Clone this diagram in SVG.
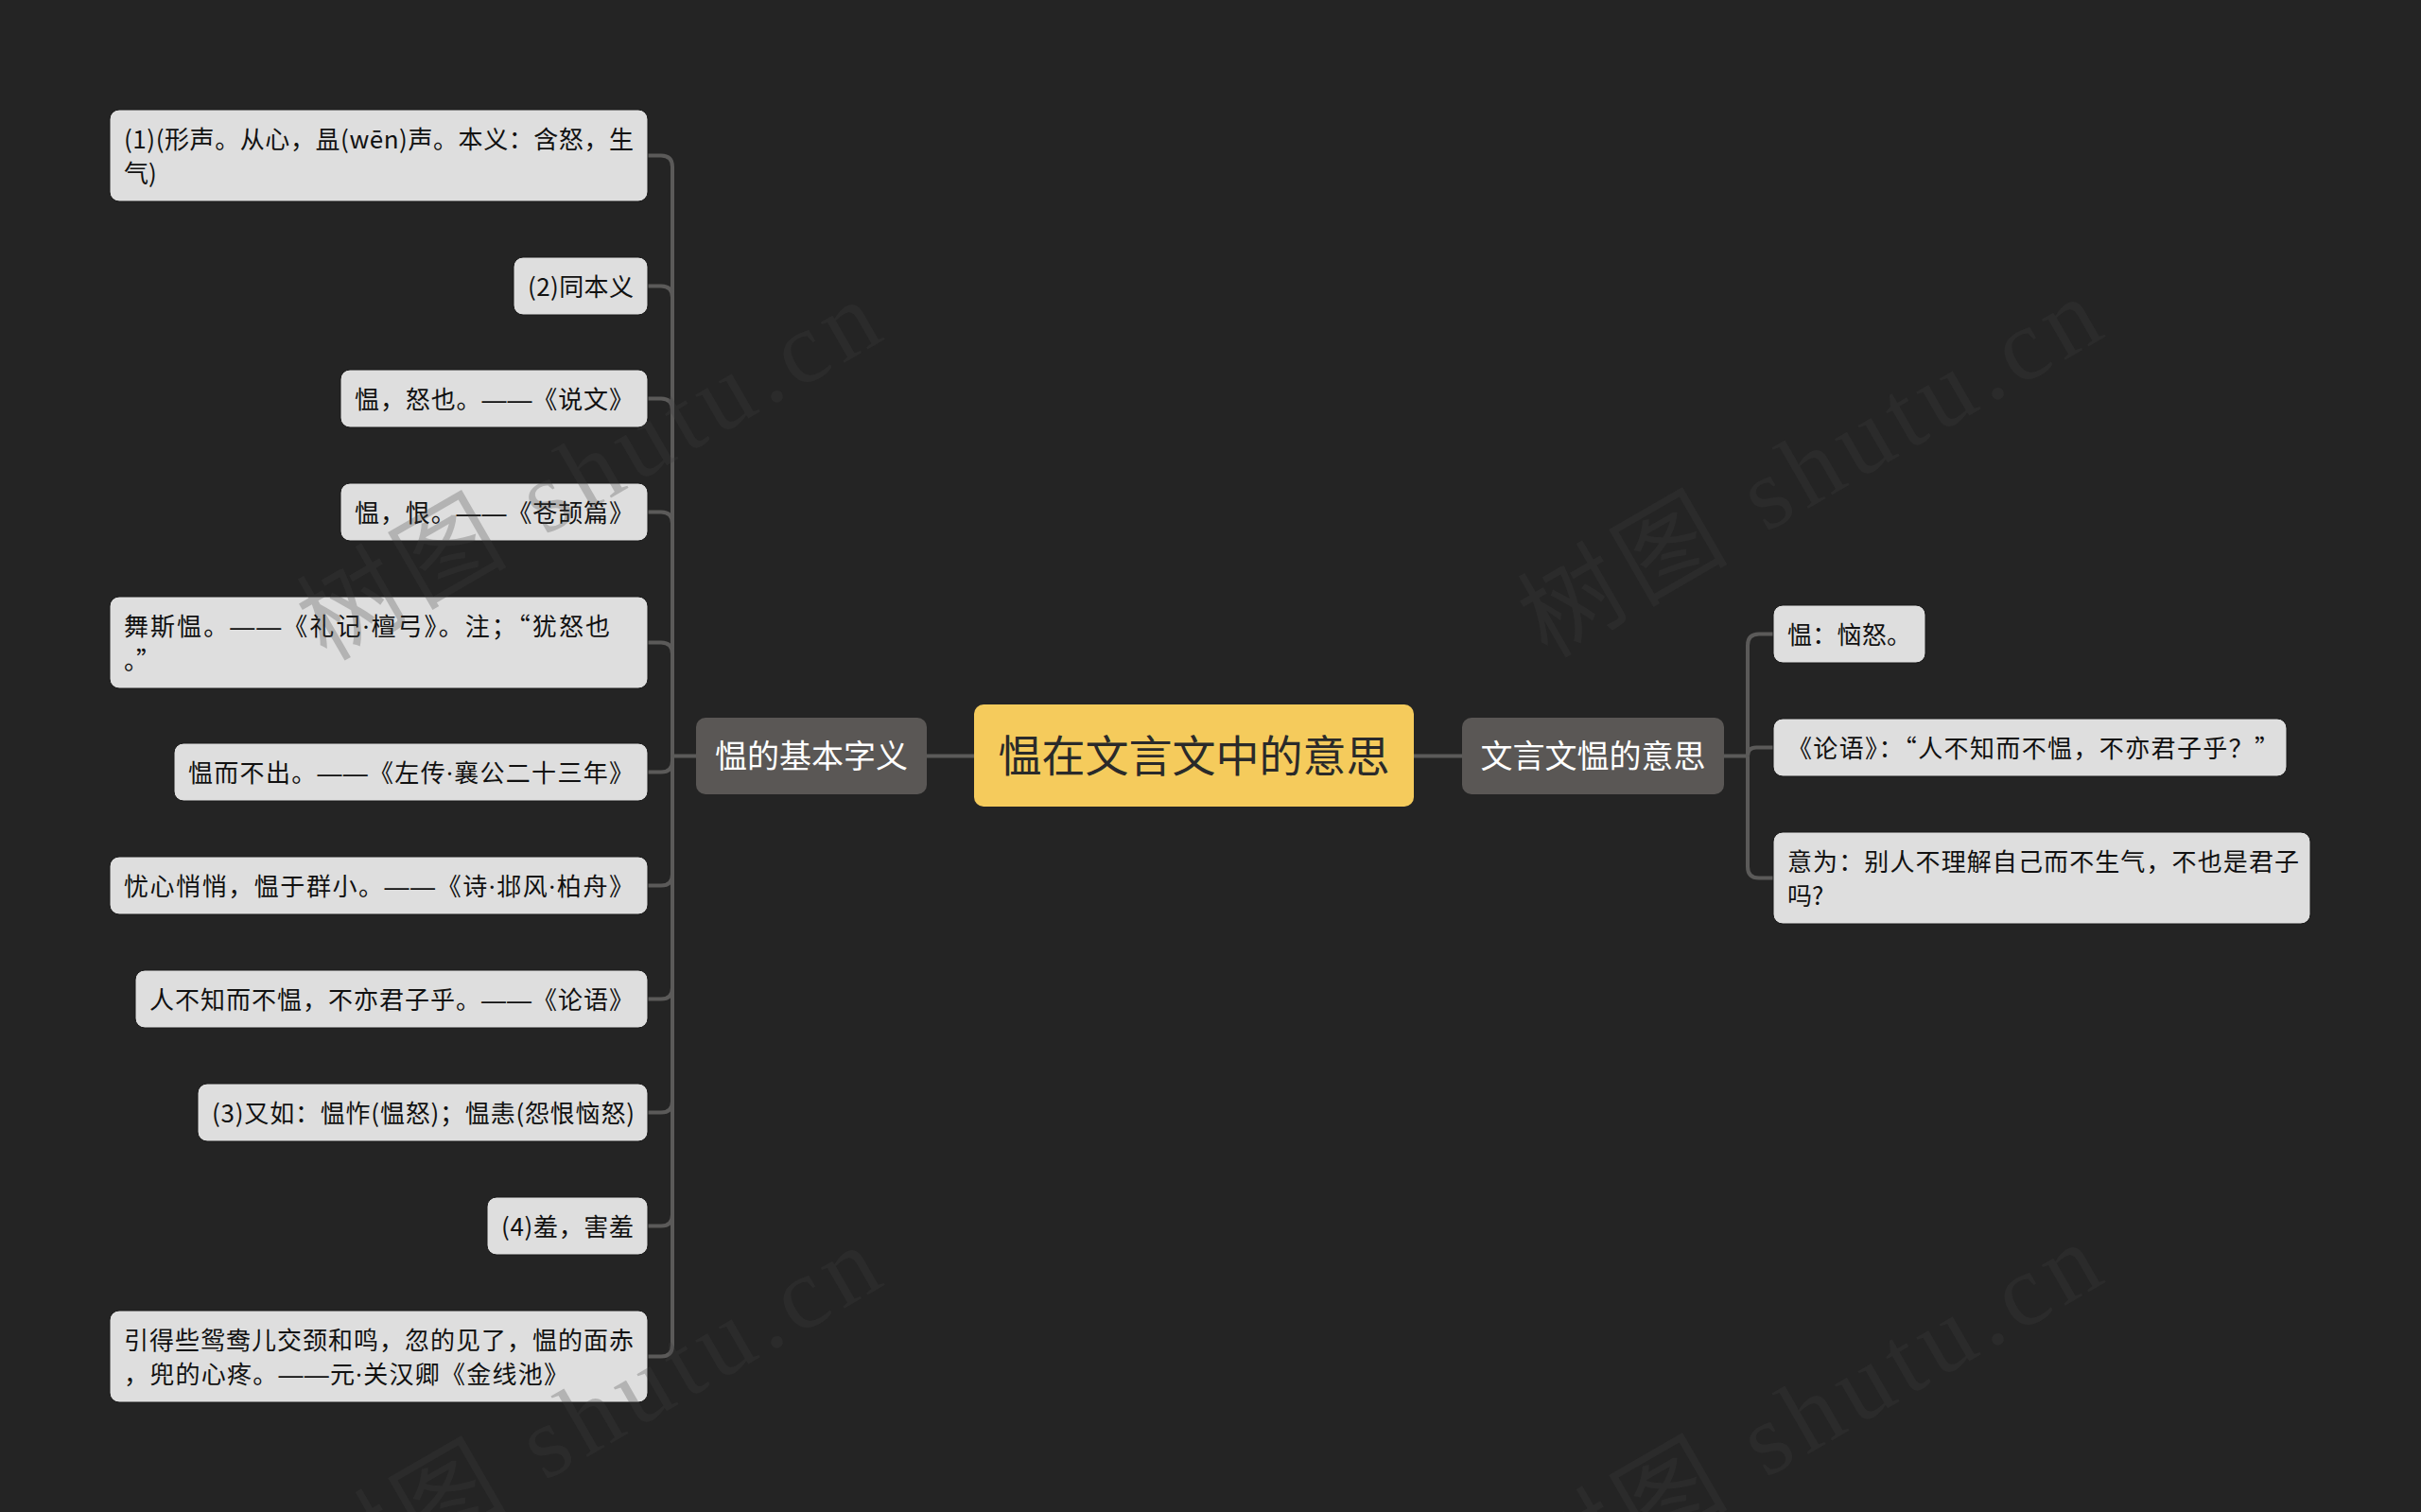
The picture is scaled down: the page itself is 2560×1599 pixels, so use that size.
<svg xmlns="http://www.w3.org/2000/svg" width="2560" height="1599" viewBox="0 0 2560 1599">
<style>
.bg{fill:#242424}
.leaf rect{fill:#dedede;stroke:#1a1a1a;stroke-width:1}
.leaf text{font-family:"Noto Sans CJK SC","Noto Sans",sans-serif;font-size:26px;fill:#111}
.l{font-family:"Noto Sans","Liberation Sans",sans-serif}
.d{font-family:"Liberation Sans","DejaVu Sans",sans-serif}
.branch rect{fill:#5a5755}
.branch text{font-family:"Noto Sans CJK SC","Noto Sans",sans-serif;font-size:34px;fill:#ffffff;text-anchor:middle}
.root rect{fill:#f5cb5c}
.root text{font-family:"Noto Sans CJK SC","Noto Sans",sans-serif;font-size:46px;fill:#2a2a2a;text-anchor:middle}
.conn path{fill:none;stroke:#5b5a59;stroke-width:4}
.wm text{font-family:"Liberation Serif","Noto Sans CJK SC",serif;font-size:108px;fill:#3f3f3f;fill-opacity:0.27}
</style>
<rect class="bg" x="0" y="0" width="2560" height="1599"/>

<g id="connectors" class="conn">
<path d="M980,799.5 H1030"/>
<path d="M1495,799.5 H1546"/>
<path d="M736,799.5 H711"/>
<path d="M711,799.5 V176.5 Q711,164.5 699,164.5 H685"/>
<path d="M711,799.5 V314.5 Q711,302.5 699,302.5 H685"/>
<path d="M711,799.5 V433.5 Q711,421.5 699,421.5 H685"/>
<path d="M711,799.5 V553.5 Q711,541.5 699,541.5 H685"/>
<path d="M711,799.5 V691.5 Q711,679.5 699,679.5 H685"/>
<path d="M711,799.5 V804.5 Q711,816.5 699,816.5 H685"/>
<path d="M711,799.5 V924.5 Q711,936.5 699,936.5 H685"/>
<path d="M711,799.5 V1044.5 Q711,1056.5 699,1056.5 H685"/>
<path d="M711,799.5 V1164.5 Q711,1176.5 699,1176.5 H685"/>
<path d="M711,799.5 V1284.5 Q711,1296.5 699,1296.5 H685"/>
<path d="M711,799.5 V1422.5 Q711,1434.5 699,1434.5 H685"/>
<path d="M1823,799.5 H1848"/>
<path d="M1848,799.5 V682.5 Q1848,670.5 1860,670.5 H1875"/>
<path d="M1848,799.5 Q1848,790.5 1857,790.5 H1875"/>
<path d="M1848,799.5 V916.5 Q1848,928.5 1860,928.5 H1875"/>
</g>

<g id="root" class="root">
<rect x="1030" y="745" width="465" height="108" rx="10"/>
<text x="1262.5" y="816">愠在文言文中的意思</text>
</g>

<g id="branch-left" class="branch">
<rect x="736" y="759" width="244" height="81" rx="10"/>
<text x="858" y="812">愠的基本字义</text>
</g>

<g id="branch-right" class="branch">
<rect x="1546" y="759" width="277" height="81" rx="10"/>
<text x="1684.5" y="812">文言文愠的意思</text>
</g>

<g id="n1" class="leaf">
<rect x="116" y="116" width="569" height="97" rx="10"/>
<text x="131" y="156.5" textLength="539" lengthAdjust="spacing">(1)(形声。从心，昷(wēn)声。本义：含怒，生</text>
<text x="131" y="192.5">气)</text>
</g>
<g id="n2" class="leaf">
<rect x="543" y="272" width="142" height="61" rx="10"/>
<text x="558" y="312.5" textLength="112" lengthAdjust="spacing">(2)同本义</text>
</g>
<g id="n3" class="leaf">
<rect x="360" y="391" width="325" height="61" rx="10"/>
<text x="375" y="431.5" textLength="295" lengthAdjust="spacing">愠，怒也。<tspan class="d">——</tspan>《说文》</text>
</g>
<g id="n4" class="leaf">
<rect x="360" y="511" width="325" height="61" rx="10"/>
<text x="375" y="551.5" textLength="295" lengthAdjust="spacing">愠，恨。<tspan class="d">——</tspan>《苍颉篇》</text>
</g>
<g id="n5" class="leaf">
<rect x="116" y="631" width="569" height="97" rx="10"/>
<text x="131" y="671.5" textLength="514" lengthAdjust="spacing">舞斯愠。<tspan class="d">——</tspan>《礼记<tspan class="l">·</tspan>檀弓》。注；“犹怒也</text>
<text x="131" y="707.5">。”</text>
</g>
<g id="n6" class="leaf">
<rect x="184" y="786" width="501" height="61" rx="10"/>
<text x="199" y="826.5" textLength="471" lengthAdjust="spacing">愠而不出。<tspan class="d">——</tspan>《左传<tspan class="l">·</tspan>襄公二十三年》</text>
</g>
<g id="n7" class="leaf">
<rect x="116" y="906" width="569" height="61" rx="10"/>
<text x="131" y="946.5" textLength="539" lengthAdjust="spacing">忧心悄悄，愠于群小。<tspan class="d">——</tspan>《诗<tspan class="l">·</tspan>邶风<tspan class="l">·</tspan>柏舟》</text>
</g>
<g id="n8" class="leaf">
<rect x="143" y="1026" width="542" height="61" rx="10"/>
<text x="158" y="1066.5" textLength="512" lengthAdjust="spacing">人不知而不愠，不亦君子乎。<tspan class="d">——</tspan>《论语》</text>
</g>
<g id="n9" class="leaf">
<rect x="209" y="1146" width="476" height="61" rx="10"/>
<text x="224" y="1186.5" textLength="447" lengthAdjust="spacing">(3)又如：愠怍(愠怒)；愠恚(怨恨恼怒)</text>
</g>
<g id="n10" class="leaf">
<rect x="515" y="1266" width="170" height="61" rx="10"/>
<text x="530" y="1306.5" textLength="140" lengthAdjust="spacing">(4)羞，害羞</text>
</g>
<g id="n11" class="leaf">
<rect x="116" y="1386" width="569" height="97" rx="10"/>
<text x="131" y="1426.5" textLength="539" lengthAdjust="spacing">引得些鸳鸯儿交颈和鸣，忽的见了，愠的面赤</text>
<text x="131" y="1462.5" textLength="470" lengthAdjust="spacing">，兜的心疼。<tspan class="d">——</tspan>元<tspan class="l">·</tspan>关汉卿《金线池》</text>
</g>

<g id="r1" class="leaf">
<rect x="1875" y="640" width="161" height="61" rx="10"/>
<text x="1890" y="680.5" textLength="131" lengthAdjust="spacing">愠：恼怒。</text>
</g>
<g id="r2" class="leaf">
<rect x="1875" y="760" width="543" height="61" rx="10"/>
<text x="1890" y="800.5" textLength="520" lengthAdjust="spacing">《论语》：“人不知而不愠，不亦君子乎？”</text>
</g>
<g id="r3" class="leaf">
<rect x="1875" y="880" width="568" height="97" rx="10"/>
<text x="1890" y="920.5" textLength="541" lengthAdjust="spacing">意为：别人不理解自己而不生气，不也是君子</text>
<text x="1890" y="956.5">吗?</text>
</g>

<g id="watermark" class="wm">
<text x="345" y="700" transform="rotate(-30 345 700)" textLength="684" lengthAdjust="spacing">树图 shutu.cn</text>
<text x="1636" y="697" transform="rotate(-30 1636 697)" textLength="684" lengthAdjust="spacing">树图 shutu.cn</text>
<text x="345" y="1700" transform="rotate(-30 345 1700)" textLength="684" lengthAdjust="spacing">树图 shutu.cn</text>
<text x="1636" y="1697" transform="rotate(-30 1636 1697)" textLength="684" lengthAdjust="spacing">树图 shutu.cn</text>
</g>
</svg>
